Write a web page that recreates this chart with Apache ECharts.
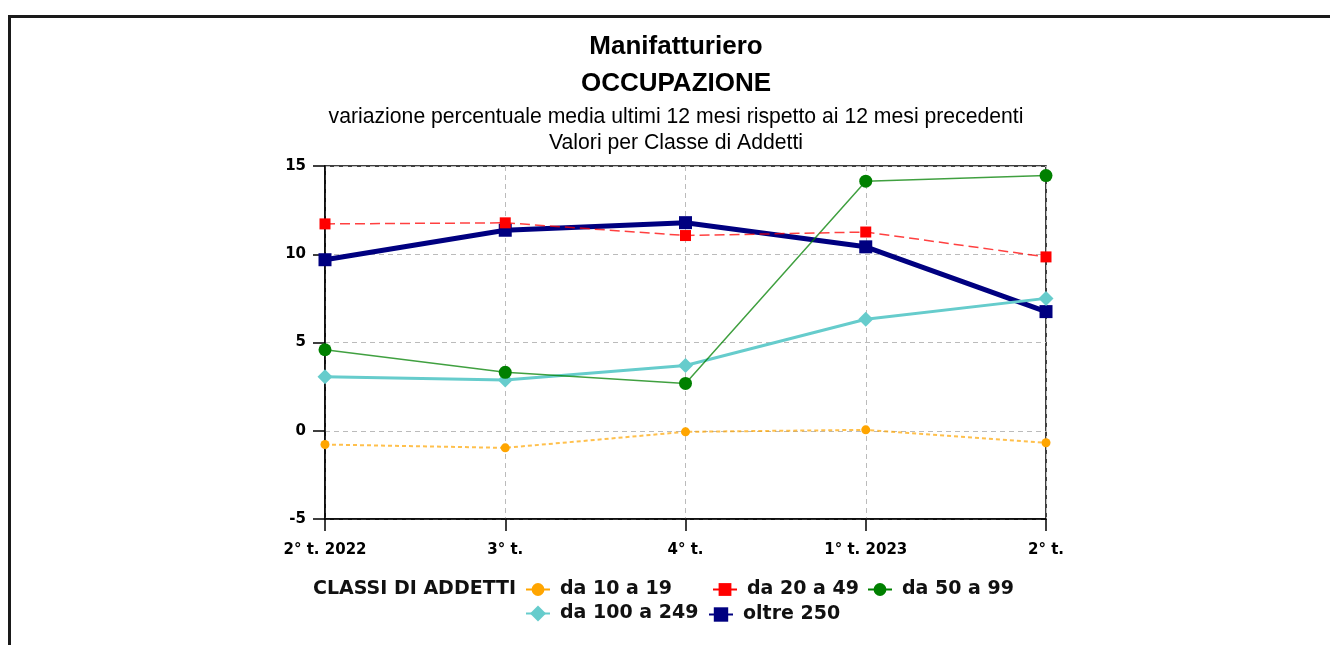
<!DOCTYPE html>
<html>
<head>
<meta charset="utf-8">
<script src="https://cdn.jsdelivr.net/npm/echarts@6/dist/echarts.min.js"></script>
<style>
html,body{margin:0;padding:0;background:#fff;overflow:hidden;}
#frame{position:absolute;left:8px;top:15px;width:1400px;height:700px;border:3px solid #1a1a1a;box-sizing:border-box;}
#chart{position:absolute;left:0;top:0;width:1330px;height:645px;}
</style>
</head>
<body>
<div id="frame"></div>
<div id="chart"></div>
<script>
const categories = ['2° t. 2022', '3° t.', '4° t.', '1° t. 2023', '2° t.'];
const yTicks = [-5, 0, 5, 10, 15];
const seriesNames = ['da 10 a 19', 'da 20 a 49', 'da 50 a 99', 'da 100 a 249', 'oltre 250'];
const da10a19 = [-0.78, -0.97, -0.06, 0.05, -0.68];
const da20a49 = [11.72, 11.78, 11.06, 11.26, 9.85];
const da50a99 = [4.59, 3.31, 2.68, 14.14, 14.46];
const da100a249 = [3.06, 2.88, 3.70, 6.32, 7.50];
const oltre250 = [9.69, 11.36, 11.79, 10.42, 6.75];
const legendTitle = 'CLASSI DI ADDETTI';

const chart = echarts.init(document.getElementById('chart'), null, {renderer: 'canvas'});
const titleFont = 'Liberation Sans, Arial, sans-serif';
const tickFont = 'DejaVu Sans, sans-serif';
const cx = 676;

function legendAt(name, left, top, h) {
  return {
    data: [name], left: left, top: top, padding: 0,
    itemWidth: 24, itemHeight: h || 16,
    lineStyle: {type: 'solid', width: 2, opacity: 1},
    textStyle: {fontFamily: tickFont, fontWeight: 'bold', fontSize: 19, color: '#111', padding: [0, 0, 0, 5]},
    selectedMode: false
  };
}

chart.setOption({
  animation: false,
  title: [
    {text: 'Manifatturiero', left: cx, top: 34, textAlign: 'center', padding: 0,
     textStyle: {fontFamily: titleFont, fontWeight: 'bold', fontSize: 26, color: '#000'}},
    {text: 'OCCUPAZIONE', left: cx, top: 71, textAlign: 'center', padding: 0,
     textStyle: {fontFamily: titleFont, fontWeight: 'bold', fontSize: 26, color: '#000'}},
    {text: 'variazione percentuale media ultimi 12 mesi rispetto ai 12 mesi precedenti\nValori per Classe di Addetti',
     left: cx, top: 104, textAlign: 'center', padding: 0,
     textStyle: {fontFamily: titleFont, fontWeight: 'normal', fontSize: 21.2, lineHeight: 26, color: '#000'}}
  ],
  grid: {left: 325, top: 166, width: 721, height: 353, show: true, borderColor: '#000', borderWidth: 1.5, backgroundColor: 'transparent'},
  xAxis: {
    type: 'category', data: categories, boundaryGap: false,
    axisLine: {onZero: false, lineStyle: {color: '#000', width: 1.5}},
    axisTick: {show: true, length: 12, alignWithLabel: true, lineStyle: {color: '#000', width: 1.5}},
    axisLabel: {fontFamily: tickFont, fontWeight: 'bold', fontSize: 15, color: '#000', margin: 24, interval: 0},
    splitLine: {show: true, lineStyle: {color: '#bbb', type: [5, 4], width: 1}}
  },
  yAxis: {
    type: 'value', min: yTicks[0], max: yTicks[yTicks.length - 1], interval: 5,
    axisLine: {show: true, onZero: false, lineStyle: {color: '#000', width: 1.5}},
    axisTick: {show: true, length: 12, lineStyle: {color: '#000', width: 1.5}},
    axisLabel: {fontFamily: tickFont, fontWeight: 'bold', fontSize: 15, color: '#000', margin: 19},
    splitLine: {show: true, lineStyle: {color: '#bbb', type: [5, 4], width: 1}}
  },
  legend: [
    legendAt(seriesNames[0], 525, 580),
    legendAt(seriesNames[1], 712, 580),
    legendAt(seriesNames[2], 867, 580),
    legendAt(seriesNames[3], 525, 604, 20),
    legendAt(seriesNames[4], 708, 605, 18)
  ],
  graphic: [
    {type: 'text', left: 313, top: 580, style: {text: legendTitle, font: 'bold 19px DejaVu Sans', fill: '#111'}}
  ],
  series: [
    {name: seriesNames[4], type: 'line', data: oltre250, symbol: 'rect', symbolSize: 13,
     itemStyle: {color: '#000080'}, lineStyle: {color: '#000080', width: 5}, z: 2},
    {name: seriesNames[3], type: 'line', data: da100a249, symbol: 'diamond', symbolSize: 15,
     itemStyle: {color: '#66CCCC'}, lineStyle: {color: '#66CCCC', width: 3}, z: 3},
    {name: seriesNames[2], type: 'line', data: da50a99, symbol: 'circle', symbolSize: 13,
     itemStyle: {color: '#008000'}, lineStyle: {color: '#008000', width: 1.5, opacity: 0.75}, z: 4},
    {name: seriesNames[1], type: 'line', data: da20a49, symbol: 'rect', symbolSize: 11,
     itemStyle: {color: '#FF0000'}, lineStyle: {color: '#FF0000', width: 1.5, type: [10, 5], opacity: 0.75}, z: 5},
    {name: seriesNames[0], type: 'line', data: da10a19, symbol: 'circle', symbolSize: 9,
     itemStyle: {color: '#FFA500'}, lineStyle: {color: '#FFA500', width: 2, type: [4, 3], opacity: 0.7}, z: 6}
  ]
});
</script>
</body>
</html>
